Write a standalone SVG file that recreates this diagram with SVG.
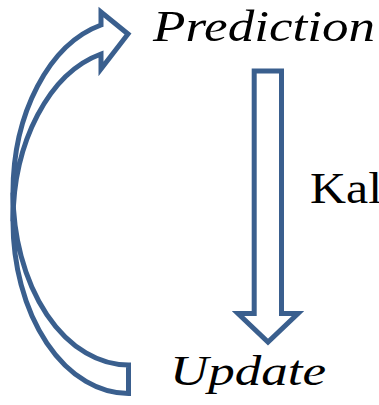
<svg xmlns="http://www.w3.org/2000/svg" width="379" height="405" viewBox="0 0 379 405">
  <style>
    .arrow { fill: #ffffff; stroke: #3A5F8E; stroke-width: 5; stroke-linejoin: miter; stroke-miterlimit: 10; }
    text { font-family: 'Liberation Serif', 'DejaVu Serif', serif; fill: #000000; }
    .it { font-style: italic; }
  </style>
  <rect x="0" y="0" width="379" height="405" fill="#ffffff"/>

  <g id="connectors">
    <!-- curved feedback arrow: Update back up to Prediction -->
    <g id="curved-arrow">
      <path class="arrow" d="M128.5,393.5 A115.5,172.3 0 0 1 13,221.2 A115.5,172.3 0 0 1 101,54 L101,69 L128,34 L101,12 L101,25 A115.5,172.3 0 0 0 13,192.7 A115.5,172.3 0 0 0 128.5,365 Z"/>
      <line x1="13" y1="192.7" x2="13" y2="221.2" stroke="#3A5F8E" stroke-width="5"/>
    </g>
    <!-- straight block arrow: Prediction down to Update -->
    <path id="down-arrow" class="arrow" d="M254.2,71 H281.5 V313.5 H298 L268,342 L238,313.5 H254.2 Z"/>
  </g>

  <g id="prediction">
    <text class="it" x="153" y="41" font-size="45" textLength="222" lengthAdjust="spacingAndGlyphs">Prediction</text>
  </g>
  <g id="update">
    <text class="it" x="170" y="385" font-size="43" textLength="156" lengthAdjust="spacingAndGlyphs">Update</text>
  </g>
  <g id="kalman">
    <text x="310" y="203" font-size="45" textLength="72" lengthAdjust="spacingAndGlyphs">Kal</text>
  </g>
</svg>
